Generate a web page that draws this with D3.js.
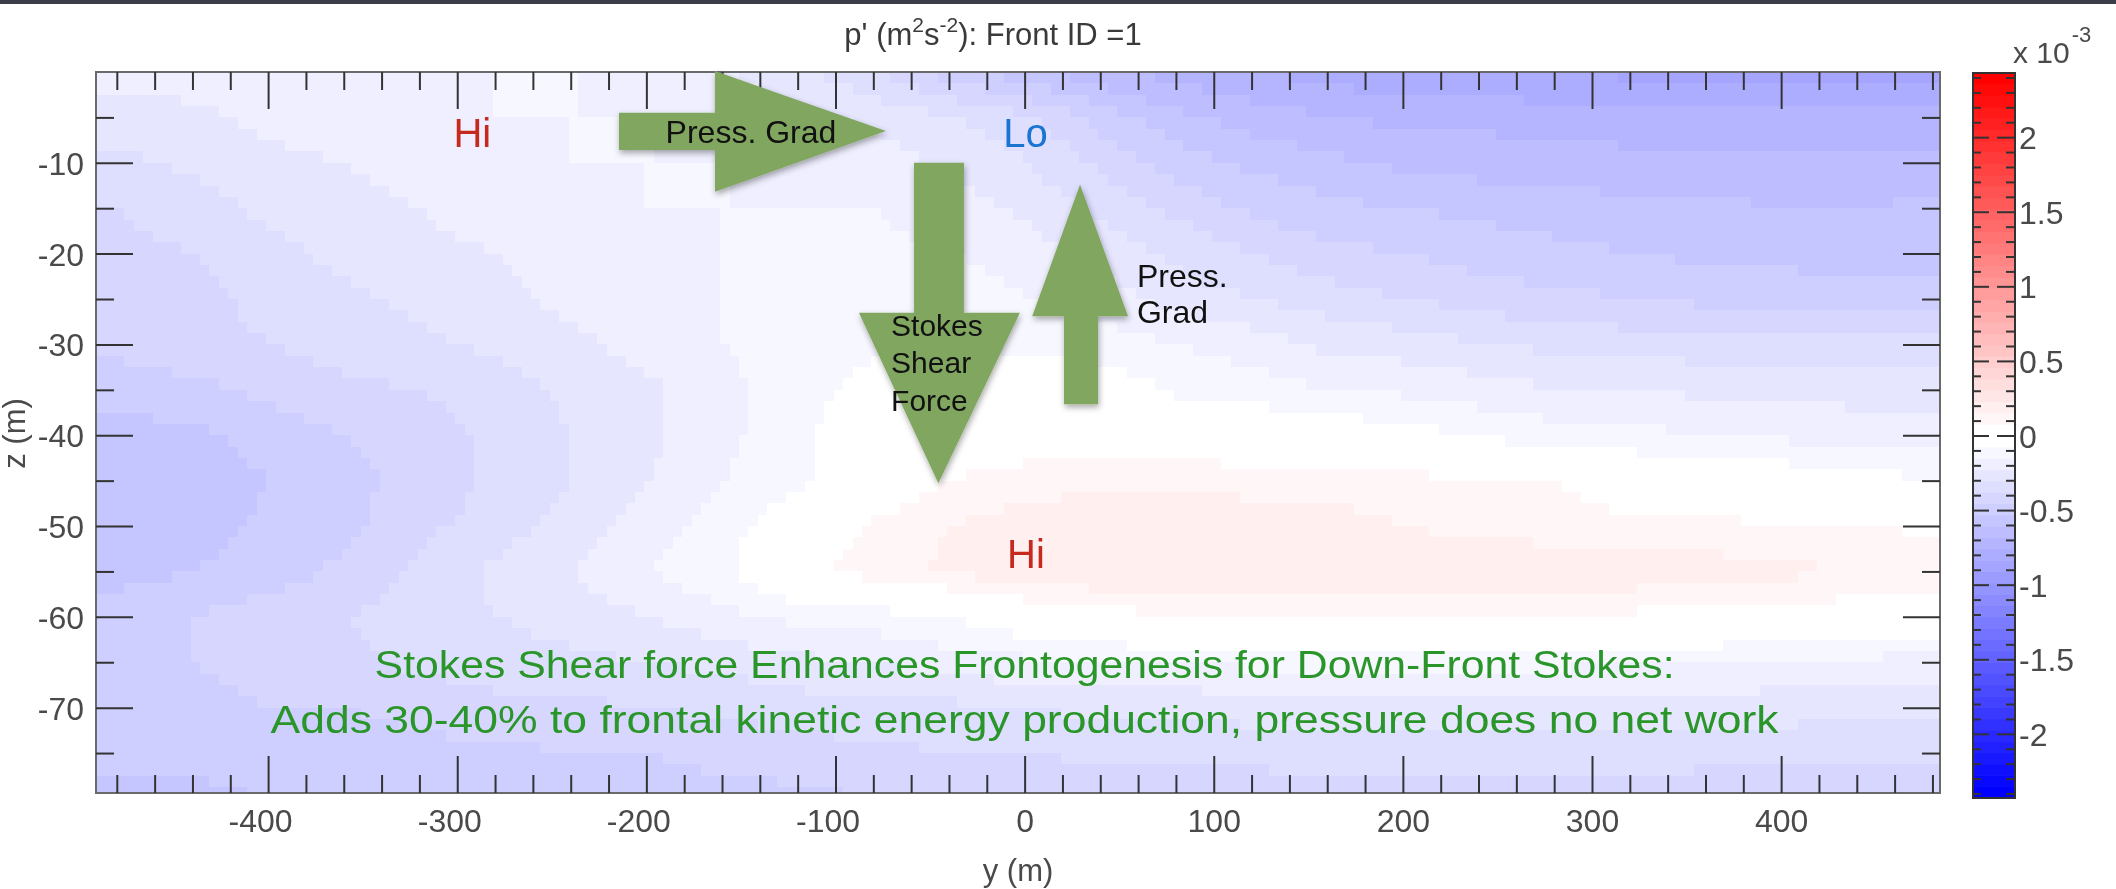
<!DOCTYPE html>
<html>
<head>
<meta charset="utf-8">
<script src="https://cdn.jsdelivr.net/npm/d3@7"></script>
<style>
  html, body { margin: 0; padding: 0; background: #fff; }
  #wrap { position: relative; width: 2116px; height: 889px; overflow: hidden; background: #fff; }
  #field, #chart { position: absolute; left: 0; top: 0; }
  text { font-family: "Liberation Sans", Arial, Helvetica, sans-serif; }
</style>
</head>
<body>
<div id="wrap">
  <canvas id="field" width="2116" height="889"></canvas>
  <svg id="chart" width="2116" height="889"></svg>
</div>
<script>
// ---- data -------------------------------------------------------------
// cross-front coordinate y (m) of the sampled columns
const yNodes = [-480, -440, -400, -360, -320, -280, -240, -200, -160, -120, -80, -40,
                0, 40, 80, 120, 160, 200, 240, 280, 320, 360, 400, 440, 480];
// depth z (m) of the sampled rows
const zNodes = [0, -5, -10, -15, -20, -25, -30, -35, -40, -45, -50, -55, -60, -65, -70, -75, -80];
// pressure anomaly p' in units of 1e-3 m^2 s^-2, one row per depth in zNodes
const pField = [
  [-0.19,-0.18,-0.17,-0.16,-0.15,-0.14,-0.15,-0.17,-0.21,-0.28,-0.37,-0.48,-0.58,-0.66,-0.72,-0.76,-0.79,-0.81,-0.82,-0.83,-0.84,-0.84,-0.84,-0.84,-0.84],
  [-0.26,-0.23,-0.20,-0.17,-0.16,-0.15,-0.14,-0.14,-0.16,-0.20,-0.24,-0.29,-0.36,-0.48,-0.58,-0.64,-0.67,-0.69,-0.70,-0.71,-0.72,-0.72,-0.72,-0.72,-0.72],
  [-0.32,-0.28,-0.24,-0.21,-0.18,-0.16,-0.15,-0.14,-0.15,-0.17,-0.19,-0.23,-0.30,-0.40,-0.49,-0.55,-0.59,-0.61,-0.63,-0.64,-0.65,-0.66,-0.66,-0.66,-0.65],
  [-0.37,-0.33,-0.28,-0.25,-0.21,-0.18,-0.16,-0.14,-0.14,-0.14,-0.15,-0.18,-0.24,-0.32,-0.40,-0.46,-0.50,-0.53,-0.55,-0.57,-0.58,-0.59,-0.60,-0.60,-0.59],
  [-0.40,-0.37,-0.32,-0.28,-0.24,-0.21,-0.18,-0.16,-0.14,-0.13,-0.13,-0.14,-0.18,-0.25,-0.32,-0.38,-0.42,-0.45,-0.48,-0.50,-0.52,-0.54,-0.55,-0.56,-0.56],
  [-0.42,-0.39,-0.35,-0.31,-0.27,-0.23,-0.20,-0.17,-0.14,-0.12,-0.11,-0.11,-0.14,-0.19,-0.25,-0.30,-0.34,-0.38,-0.41,-0.43,-0.45,-0.47,-0.48,-0.49,-0.49],
  [-0.42,-0.40,-0.37,-0.34,-0.31,-0.27,-0.23,-0.19,-0.15,-0.11,-0.08,-0.07,-0.08,-0.11,-0.15,-0.19,-0.23,-0.26,-0.29,-0.31,-0.33,-0.34,-0.35,-0.36,-0.36],
  [-0.49,-0.47,-0.43,-0.40,-0.37,-0.33,-0.28,-0.23,-0.17,-0.11,-0.02, 0.00, 0.00,-0.01,-0.08,-0.11,-0.14,-0.17,-0.19,-0.21,-0.22,-0.23,-0.24,-0.25,-0.25],
  [-0.56,-0.54,-0.49,-0.45,-0.41,-0.36,-0.30,-0.24,-0.16,-0.09, 0.00, 0.02, 0.02, 0.02, 0.01, 0.00,-0.01,-0.03,-0.09,-0.10,-0.12,-0.14,-0.16,-0.17,-0.18],
  [-0.60,-0.57,-0.52,-0.47,-0.42,-0.36,-0.29,-0.22,-0.14,-0.08, 0.00, 0.08, 0.12, 0.14, 0.14, 0.13, 0.12, 0.11, 0.10, 0.08, 0.02, 0.00,-0.01,-0.02,-0.07],
  [-0.60,-0.57,-0.51,-0.46,-0.40,-0.33,-0.26,-0.18,-0.11, 0.00, 0.10, 0.16, 0.20, 0.22, 0.22, 0.21, 0.20, 0.17, 0.12, 0.12, 0.11, 0.10, 0.09, 0.08, 0.06],
  [-0.56,-0.53,-0.48,-0.42,-0.35,-0.28,-0.21,-0.14,-0.08, 0.07, 0.13, 0.19, 0.22, 0.24, 0.24, 0.24, 0.24, 0.24, 0.23, 0.22, 0.21, 0.20, 0.19, 0.17, 0.15],
  [-0.46,-0.44,-0.41,-0.37,-0.33,-0.29,-0.25,-0.21,-0.17,-0.13,-0.10,-0.07, 0.00, 0.05, 0.09, 0.09, 0.08, 0.09, 0.09, 0.08, 0.06, 0.06, 0.04, 0.02, 0.00],
  [-0.46,-0.44,-0.42,-0.39,-0.36,-0.34,-0.32,-0.30,-0.27,-0.24,-0.21,-0.19,-0.17,-0.15,-0.14,-0.13,-0.12,-0.12,-0.12,-0.13,-0.14,-0.15,-0.16,-0.17,-0.18],
  [-0.49,-0.47,-0.45,-0.44,-0.42,-0.40,-0.39,-0.37,-0.35,-0.33,-0.32,-0.31,-0.30,-0.28,-0.27,-0.26,-0.25,-0.25,-0.25,-0.25,-0.25,-0.26,-0.26,-0.27,-0.28],
  [-0.50,-0.50,-0.49,-0.48,-0.47,-0.46,-0.45,-0.44,-0.43,-0.41,-0.39,-0.38,-0.37,-0.36,-0.35,-0.35,-0.34,-0.34,-0.34,-0.34,-0.34,-0.35,-0.35,-0.36,-0.36],
  [-0.54,-0.54,-0.53,-0.52,-0.51,-0.50,-0.49,-0.48,-0.47,-0.46,-0.45,-0.44,-0.43,-0.42,-0.42,-0.41,-0.41,-0.41,-0.41,-0.41,-0.41,-0.41,-0.41,-0.41,-0.41]
];
// axis and colour-bar tick labels
const yTickLabels = [-400, -300, -200, -100, 0, 100, 200, 300, 400];
const zTickLabels = [-10, -20, -30, -40, -50, -60, -70];
const cbarTickLabels = [-2, -1.5, -1, -0.5, 0, 0.5, 1, 1.5, 2];
const captionLines = [
  "Stokes Shear force Enhances Frontogenesis for Down-Front Stokes:",
  "Adds 30-40% to frontal kinetic energy production, pressure does no net work"
];

// ---- layout -----------------------------------------------------------
const W = 2116, H = 889;
const plot = { left: 96, right: 1940, top: 72, bottom: 793 };
const cbar = { left: 1973, right: 2015, top: 73, bottom: 798 };
const pLim = 2.43;
const yDomain = [-491, 484], zDomain = [-79.4, 0];

const x = d3.scaleLinear().domain(yDomain).range([plot.left, plot.right]);
const z = d3.scaleLinear().domain(zDomain).range([plot.bottom, plot.top]);
const c = d3.scaleLinear().domain([-pLim, pLim]).range([cbar.bottom, cbar.top]);

// 64-entry blue-white-red colour map, applied as a quantized scale
const nColors = 64;
const toWhite = d3.interpolateRgb("#0000ff", "#ffffff");
const toRed = d3.interpolateRgb("#ffffff", "#ff0000");
const cmap = d3.range(nColors).map(k => k < nColors / 2
  ? toWhite(k / (nColors / 2 - 1))
  : toRed((k - nColors / 2) / (nColors / 2 - 1)));
const color = d3.scaleQuantize().domain([-pLim, pLim]).range(cmap);

// ---- pressure field ---------------------------------------------------
// sample nodes are shaded bilinearly onto the model cells (5 m x 1.25 m),
// each cell coloured from the quantized map and drawn as a flat block
(function drawField() {
  const nY = yNodes.length, nZ = zNodes.length;
  const enc = d3.scaleLinear().domain([-pLim, pLim]).range([0, 255]).clamp(true);
  const src = document.createElement("canvas");
  src.width = nY; src.height = nZ;
  const sctx = src.getContext("2d");
  const simg = sctx.createImageData(nY, nZ);
  pField.forEach((row, j) => row.forEach((v, i) => {
    const k = 4 * (j * nY + i);
    const e = Math.round(enc(v));
    simg.data[k] = e; simg.data[k + 1] = e; simg.data[k + 2] = e; simg.data[k + 3] = 255;
  }));
  sctx.putImageData(simg, 0, 0);

  const cellY = 5, cellZ = 1.25;
  const nCy = Math.round((yDomain[1] - yDomain[0]) / cellY);
  const nCz = Math.ceil((zDomain[1] - zDomain[0]) / cellZ);
  const zBottom = zDomain[1] - nCz * cellZ;
  const cx = d3.scaleLinear().domain(yDomain).range([0, nCy]);
  const cz = d3.scaleLinear().domain([0, zBottom]).range([0, nCz]);

  const cells = document.createElement("canvas");
  cells.width = nCy; cells.height = nCz;
  const cctx = cells.getContext("2d");
  cctx.imageSmoothingEnabled = true;
  const dy = yNodes[1] - yNodes[0], dz = zNodes[0] - zNodes[1];
  const sx0 = cx(yNodes[0] - dy / 2), sx1 = cx(yNodes[nY - 1] + dy / 2);
  const sz0 = cz(zNodes[0] + dz / 2), sz1 = cz(zNodes[nZ - 1] - dz / 2);
  cctx.drawImage(src, sx0, sz0, sx1 - sx0, sz1 - sz0);

  const cimg = cctx.getImageData(0, 0, nCy, nCz);
  for (let k = 0; k < cimg.data.length; k += 4) {
    const v = enc.invert(cimg.data[k]);
    const col = d3.rgb(color(v));
    cimg.data[k] = col.r; cimg.data[k + 1] = col.g; cimg.data[k + 2] = col.b; cimg.data[k + 3] = 255;
  }
  cctx.putImageData(cimg, 0, 0);

  const ctx = document.getElementById("field").getContext("2d");
  ctx.save();
  ctx.beginPath();
  ctx.rect(plot.left, plot.top, plot.right - plot.left, plot.bottom - plot.top);
  ctx.clip();
  ctx.imageSmoothingEnabled = false;
  ctx.drawImage(cells, x(yDomain[0]), z(0), x(yDomain[1]) - x(yDomain[0]), z(zBottom) - z(0));
  ctx.restore();
})();

// ---- svg overlay ------------------------------------------------------
const svg = d3.select("#chart");
const defs = svg.append("defs");

// window strip along the top edge
svg.append("rect").attr("x", 0).attr("y", 0).attr("width", W).attr("height", 4)
  .attr("fill", "#3b3e48");

// axes frame
svg.append("rect")
  .attr("x", plot.left).attr("y", plot.top)
  .attr("width", plot.right - plot.left).attr("height", plot.bottom - plot.top)
  .attr("fill", "none").attr("stroke", "#6a6a6a").attr("stroke-width", 2);

const tickColor = "#333";
const labelColor = "#4a4a4a";
const fmt = d => String(d);
const yMinor = d3.range(-480, 481, 20).filter(v => v % 100 !== 0);
const zMinor = d3.range(-75, 0, 10);

function styleAxis(g) {
  g.select(".domain").remove();
  g.attr("color", tickColor);
  g.selectAll(".tick line").attr("stroke-width", 2);
  g.selectAll("text").attr("fill", labelColor).attr("font-size", 32)
    .attr("font-family", "'Liberation Sans', Arial, Helvetica, sans-serif");
}

// bottom axis
svg.append("g").attr("transform", `translate(0,${plot.bottom})`)
  .call(d3.axisBottom(x).tickValues(yTickLabels).tickSize(-37).tickFormat(fmt))
  .call(styleAxis)
  .call(g => g.selectAll("text").attr("y", 39).attr("dy", null)
    .attr("dx", d => d < 0 ? -8 : 0));
svg.append("g").attr("transform", `translate(0,${plot.bottom})`)
  .call(d3.axisBottom(x).tickValues(yMinor).tickSize(-18).tickFormat(""))
  .call(styleAxis);
// top axis (ticks only)
svg.append("g").attr("transform", `translate(0,${plot.top})`)
  .call(d3.axisTop(x).tickValues(yTickLabels).tickSize(-37).tickFormat(""))
  .call(styleAxis);
svg.append("g").attr("transform", `translate(0,${plot.top})`)
  .call(d3.axisTop(x).tickValues(yMinor).tickSize(-18).tickFormat(""))
  .call(styleAxis);
// left axis
svg.append("g").attr("transform", `translate(${plot.left},0)`)
  .call(d3.axisLeft(z).tickValues(zTickLabels).tickSize(-37).tickPadding(12).tickFormat(fmt))
  .call(styleAxis)
  .call(g => g.selectAll("text").attr("dy", "0.36em"));
svg.append("g").attr("transform", `translate(${plot.left},0)`)
  .call(d3.axisLeft(z).tickValues(zMinor).tickSize(-18).tickFormat(""))
  .call(styleAxis);
// right axis (ticks only)
svg.append("g").attr("transform", `translate(${plot.right},0)`)
  .call(d3.axisRight(z).tickValues(zTickLabels).tickSize(-37).tickFormat(""))
  .call(styleAxis);
svg.append("g").attr("transform", `translate(${plot.right},0)`)
  .call(d3.axisRight(z).tickValues(zMinor).tickSize(-18).tickFormat(""))
  .call(styleAxis);

// axis titles
svg.append("text").attr("x", (plot.left + plot.right) / 2).attr("y", 881)
  .attr("text-anchor", "middle").attr("font-size", 31).attr("fill", labelColor)
  .text("y (m)");
svg.append("text").attr("transform", `translate(25,${(plot.top + plot.bottom) / 2 + 1}) rotate(-90)`)
  .attr("text-anchor", "middle").attr("font-size", 31).attr("fill", labelColor)
  .text("z (m)");

// title
const title = svg.append("text").attr("x", 993).attr("y", 45)
  .attr("text-anchor", "middle").attr("font-size", 31).attr("fill", "#3a3a3a");
title.append("tspan").text("p' (m");
title.append("tspan").attr("dy", -13).attr("font-size", 21).text("2");
title.append("tspan").attr("dy", 13).text("s");
title.append("tspan").attr("dy", -13).attr("font-size", 21).text("-2");
title.append("tspan").attr("dy", 13).text("): Front ID =1");

// ---- colour bar (one band per colour-map entry) ------------------------
const bandEdges = d3.range(nColors + 1).map(k => -pLim + 2 * pLim * k / nColors);
svg.append("g").selectAll("rect").data(cmap).join("rect")
  .attr("x", cbar.left)
  .attr("y", (d, k) => c(bandEdges[k + 1]))
  .attr("width", cbar.right - cbar.left)
  .attr("height", (d, k) => c(bandEdges[k]) - c(bandEdges[k + 1]) + 0.6)
  .attr("fill", d => d);
svg.append("rect")
  .attr("x", cbar.left).attr("y", cbar.top)
  .attr("width", cbar.right - cbar.left).attr("height", cbar.bottom - cbar.top)
  .attr("fill", "none").attr("stroke", "#333").attr("stroke-width", 2);

const cMinor = d3.range(-24, 25, 1).map(v => v / 10).filter(v => Math.abs(v * 2 - Math.round(v * 2)) > 1e-6);
svg.append("g").attr("transform", `translate(${cbar.left},0)`)
  .call(d3.axisLeft(c).tickValues(cbarTickLabels).tickSize(-16).tickFormat(""))
  .call(styleAxis);
svg.append("g").attr("transform", `translate(${cbar.left},0)`)
  .call(d3.axisLeft(c).tickValues(cMinor).tickSize(-8).tickFormat(""))
  .call(styleAxis);
svg.append("g").attr("transform", `translate(${cbar.right},0)`)
  .call(d3.axisRight(c).tickValues(cbarTickLabels).tickSize(-18).tickPadding(4).tickFormat(fmt))
  .call(styleAxis)
  .call(g => g.selectAll("text").attr("x", 4).attr("dy", "0.36em"));
svg.append("g").attr("transform", `translate(${cbar.right},0)`)
  .call(d3.axisRight(c).tickValues(cMinor).tickSize(-9).tickFormat(""))
  .call(styleAxis);

const mult = svg.append("text").attr("x", 2013).attr("y", 63)
  .attr("font-size", 30).attr("fill", labelColor);
mult.append("tspan").text("x 10");
mult.append("tspan").attr("dy", -21).attr("dx", 2).attr("font-size", 22).text("-3");

// ---- force arrows -----------------------------------------------------
const shadow = defs.append("filter").attr("id", "arrowShadow")
  .attr("x", "-20%").attr("y", "-20%").attr("width", "140%").attr("height", "140%");
shadow.append("feDropShadow").attr("dx", 1).attr("dy", 3).attr("stdDeviation", 3)
  .attr("flood-color", "#000").attr("flood-opacity", 0.35);

const line = d3.line().x(d => x(d[0])).y(d => z(d[1]));
const arrows = [
  // pressure gradient, Hi -> Lo along the surface
  [[-214.5, -4.5], [-163.7, -4.5], [-163.7, 0.1], [-73.3, -6.5], [-163.7, -13.2], [-163.7, -8.6], [-214.5, -8.6]],
  // Stokes shear force, pointing down
  [[-58.5, -10.0], [-32.1, -10.0], [-32.1, -26.5], [-2.5, -26.5], [-45.6, -45.3], [-87.6, -26.5], [-58.5, -26.5]],
  // pressure gradient, pointing up
  [[20.8, -36.6], [38.8, -36.6], [38.8, -26.9], [54.7, -26.9], [29.3, -12.4], [4.0, -26.9], [20.8, -26.9]]
];
svg.append("g").attr("filter", "url(#arrowShadow)")
  .selectAll("path").data(arrows).join("path")
  .attr("d", d => line(d) + "Z")
  .attr("fill", "#80a660");

// arrow labels
svg.append("text").attr("x", x(-144.7)).attr("y", z(-7.8))
  .attr("text-anchor", "middle").attr("font-size", 32).attr("fill", "#111")
  .text("Press. Grad");
["Stokes", "Shear", "Force"].forEach((t, i) => {
  svg.append("text").attr("x", x(-70.6)).attr("y", z(-29.1 - 4.1 * i))
    .attr("font-size", 30).attr("fill", "#111").text(t);
});
["Press.", "Grad"].forEach((t, i) => {
  svg.append("text").attr("x", x(59.4)).attr("y", z(-23.7 - 3.95 * i))
    .attr("font-size", 32).attr("fill", "#111").text(t);
});

// high / low pressure markers
const marks = [
  { t: "Hi", y: -292, z: -8.26, fill: "#c62a1f" },
  { t: "Lo", y: 0.5, z: -8.26, fill: "#1b74d0" },
  { t: "Hi", y: 0.7, z: -54.6, fill: "#c62a1f" }
];
svg.selectAll("text.hilo").data(marks).join("text").attr("class", "hilo")
  .attr("x", d => x(d.y)).attr("y", d => z(d.z))
  .attr("text-anchor", "middle").attr("font-size", 40).attr("fill", d => d.fill)
  .text(d => d.t);

// caption
const capWidths = [1300, 1508];
captionLines.forEach((t, i) => {
  svg.append("text").attr("x", x(0)).attr("y", [678, 733][i])
    .attr("text-anchor", "middle")
    .attr("font-family", "'Comic Sans MS', Chalkboard, 'Noto Sans', sans-serif")
    .attr("font-size", 38).attr("fill", "#2a962a")
    .attr("textLength", capWidths[i]).attr("lengthAdjust", "spacingAndGlyphs")
    .text(t);
});
</script>
</body>
</html>
